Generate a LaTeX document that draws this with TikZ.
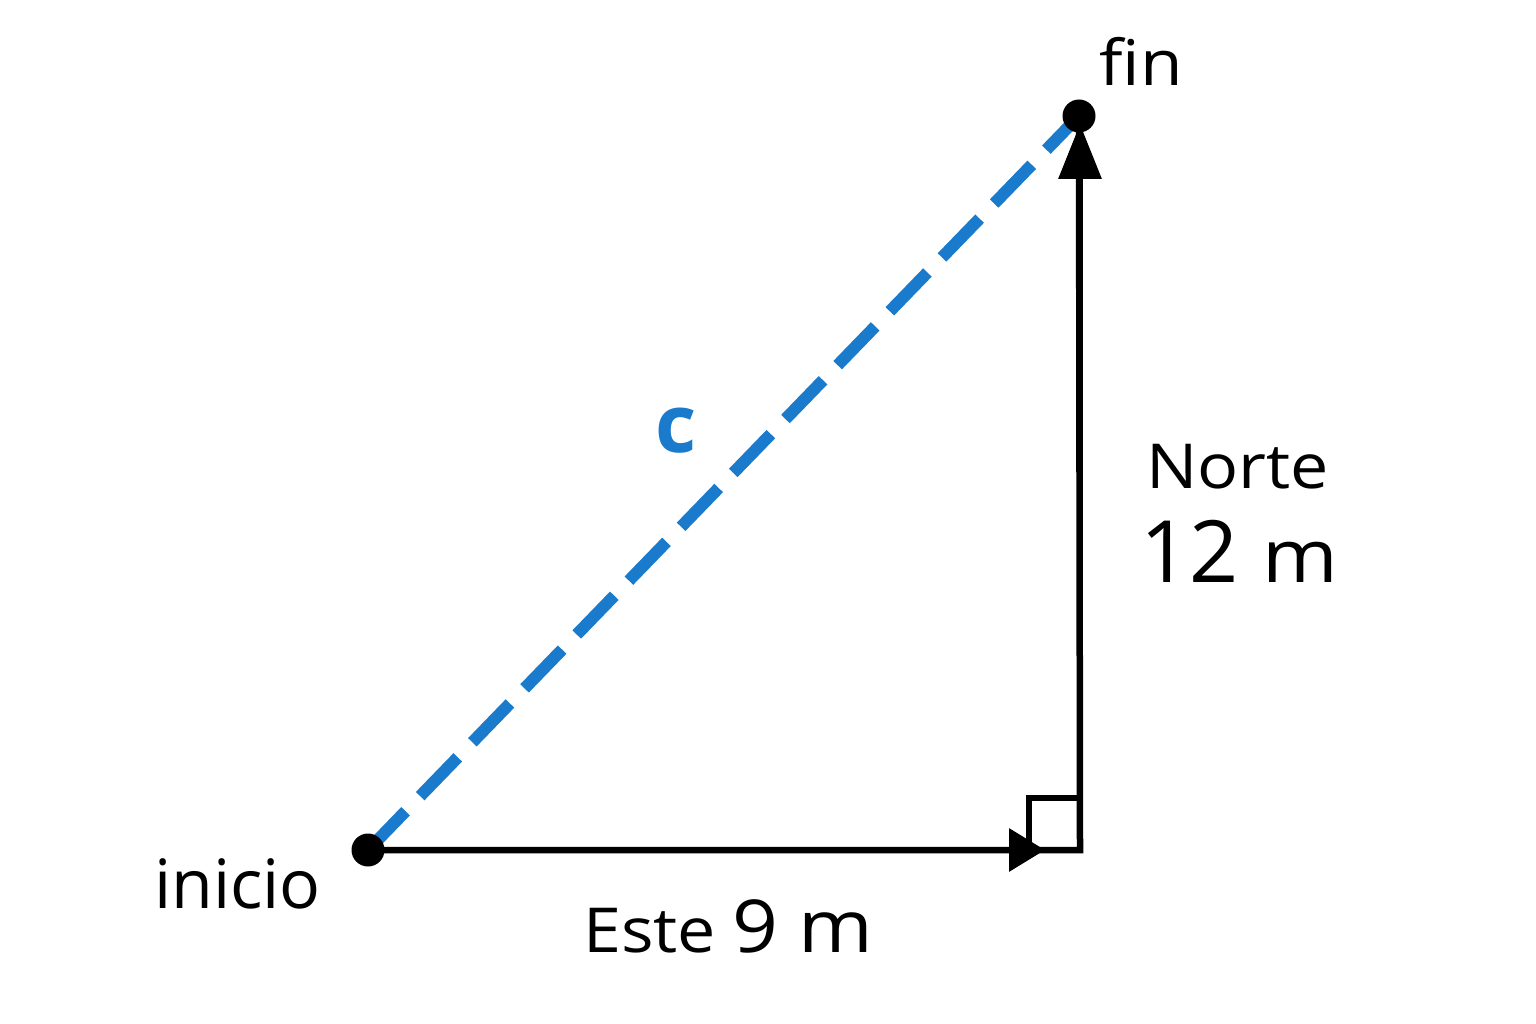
\documentclass[tikz,border=0pt]{standalone}
\usepackage{graphicx}
\usepackage{fontspec}
\setmainfont[Ligatures=NoCommon]{Open Sans}
\usetikzlibrary{arrows.meta}
\definecolor{cblue}{RGB}{26,122,204}
\newcommand{\widen}[1]{\scalebox{1.1}[1]{#1}}
\begin{document}
\begin{tikzpicture}[x=1pt,y=-1pt,
  blk/.style={line width=6.5pt,black},
  dot/.style={circle,fill=black,inner sep=0pt,minimum size=33pt},
  lbl/.style={anchor=base west,inner sep=0pt,text=black},
  hyp/.style={line width=12pt,cblue,dash pattern=on 54pt off 21pt}]
\useasboundingbox (0,0) rectangle (1536,1024);
\fill[white] (0,0) rectangle (1536,1024);
\coordinate (A) at (368,850);
\coordinate (C) at (1080,850);
\coordinate (B) at (1079,116);
\coordinate (ha) at (1045,850);
\coordinate (va) at (1080,124);
\coordinate (sq1) at (1029,850);
\coordinate (sq2) at (1029,798);
\coordinate (sq3) at (1080,798);
% hypotenuse
\draw[hyp] (A) -- (B);
% legs
\draw[blk,line join=miter] (A) -- (C) -- (B);
\draw[blk,-{Triangle[length=36pt,width=42pt]}] (A) -- (ha);
\draw[blk,-{Triangle[length=55pt,width=42pt]}] (C) -- (va);
% right angle mark
\draw[line width=5.5pt,line join=miter] (sq1) -- (sq2) -- (sq3);
% dots
\node[dot] (inicio) at (A) {};
\node[dot] (fin) at (B) {};
% labels
\node[lbl,font=\fontsize{63}{63}\selectfont] (tfin) at (1099,86) {\widen{fin}};
\node[lbl,font=\fontsize{68}{68}\selectfont] (tinicio) at (154,908) {inicio};
\node[lbl,font=\fontsize{62}{62}\selectfont] (teste) at (583,952) {\widen{Este}\hspace{16pt}{\fontsize{73}{73}\selectfont\widen{9 m}}};
\node[lbl,font=\fontsize{62}{62}\selectfont] (tnorte) at (1146,488) {\widen{Norte}};
\node[lbl] (tdoce) at (1140,582) {{\fontsize{86}{86}\selectfont 12}\hspace{24pt}{\fontsize{74}{74}\selectfont\widen{m}}};
\node[anchor=base,inner sep=0pt,text=cblue,font=\fontsize{80}{80}\selectfont\bfseries] (tc) at (676,452) {c};
\end{tikzpicture}
\end{document}
